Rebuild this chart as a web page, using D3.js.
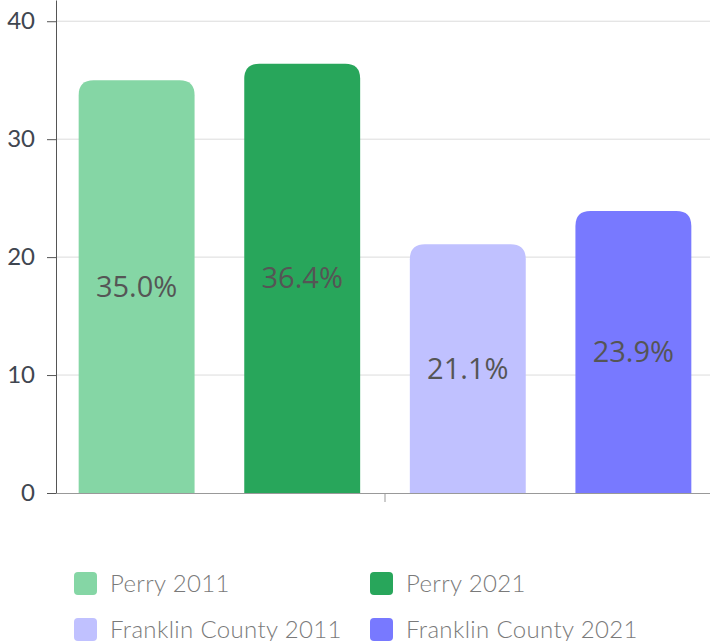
<!DOCTYPE html>
<html>
<head>
<meta charset="utf-8">
<script src="https://cdn.jsdelivr.net/npm/d3@7"></script>
<style>
  body { margin: 0; background: #fff; }
  svg { display: block; font-family: Lato, "Open Sans", sans-serif; }
</style>
</head>
<body>
<svg width="710" height="641"></svg>
<script>
// data
const groups = [""];
const series = ["Perry 2011", "Perry 2021", "Franklin County 2011", "Franklin County 2021"];
const values = [35.0, 36.4, 21.1, 23.9];
const colors = ["#85d6a5", "#28a65b", "#c0c1ff", "#7879ff"];
const yTicks = [0, 10, 20, 30, 40];

const svg = d3.select("svg");
const plotLeft = 56, plotRight = 714, plotBottom = 493, plotTop = 0;

const y = d3.scaleLinear()
  .domain([0, 41.8])
  .range([plotBottom, plotTop]);

const x0 = d3.scaleBand()
  .domain(groups)
  .range([plotLeft, plotRight])
  .paddingOuter(0.037);

const x1 = d3.scaleBand()
  .domain(series)
  .range([0, x0.bandwidth()])
  .paddingInner(0.3);

// grid lines
svg.append("g")
  .selectAll("line")
  .data(yTicks.filter(d => d > 0))
  .join("line")
  .attr("x1", plotLeft)
  .attr("x2", 710)
  .attr("y1", d => y(d))
  .attr("y2", d => y(d))
  .attr("stroke", "#dcdcdc")
  .attr("stroke-width", 1);

// bars with rounded top corners
const r = 15;
function barPath(x, w, yTop, yBase) {
  return `M${x},${yBase} L${x},${yTop + r} Q${x},${yTop} ${x + r},${yTop}` +
    ` L${x + w - r},${yTop} Q${x + w},${yTop} ${x + w},${yTop + r} L${x + w},${yBase} Z`;
}

const g = svg.append("g")
  .attr("transform", `translate(${x0("")},0)`);

g.selectAll("path")
  .data(values)
  .join("path")
  .attr("d", (d, i) => barPath(x1(series[i]), x1.bandwidth(), y(d), y(0)))
  .attr("fill", (d, i) => colors[i]);

g.selectAll("text")
  .data(values)
  .join("text")
  .attr("x", (d, i) => x1(series[i]) + x1.bandwidth() / 2)
  .attr("y", d => (y(d) + y(0)) / 2)
  .attr("dy", "0.35em")
  .attr("text-anchor", "middle")
  .attr("font-family", "'Open Sans', sans-serif")
  .attr("font-size", 29)
  .attr("fill", "#555")
  .text(d => d.toFixed(1) + "%");

// x axis
const xAxis = svg.append("g")
  .attr("transform", `translate(0,${plotBottom})`)
  .call(d3.axisBottom(x0).tickSize(9).tickSizeOuter(0));
xAxis.select(".domain").attr("stroke", "#999");
xAxis.selectAll(".tick line").attr("stroke", "#999");
xAxis.selectAll(".tick text").remove();

// y axis
const yAxis = svg.append("g")
  .attr("transform", `translate(${plotLeft},0)`)
  .call(d3.axisLeft(y).tickValues(yTicks).tickSize(9).tickSizeOuter(0).tickPadding(12));
yAxis.select(".domain").attr("stroke", "#555");
yAxis.selectAll(".tick line").attr("stroke", "#555");
yAxis.selectAll(".tick text")
  .attr("font-size", 24)
  .attr("font-family", "Lato, sans-serif")
  .attr("fill", "#3f4650");

// legend
const legend = svg.append("g")
  .selectAll("g")
  .data(series)
  .join("g")
  .attr("transform", (d, i) => `translate(${74 + (i % 2) * 296},${572 + Math.floor(i / 2) * 46})`);

legend.append("rect")
  .attr("width", 23)
  .attr("height", 23)
  .attr("rx", 4)
  .attr("fill", (d, i) => colors[i]);

legend.append("text")
  .attr("x", 36)
  .attr("y", 12)
  .attr("dy", "0.35em")
  .attr("font-size", 24)
  .attr("font-weight", 300)
  .attr("letter-spacing", 0.35)
  .attr("fill", "#7a7a7a")
  .text(d => d);
</script>
</body>
</html>
